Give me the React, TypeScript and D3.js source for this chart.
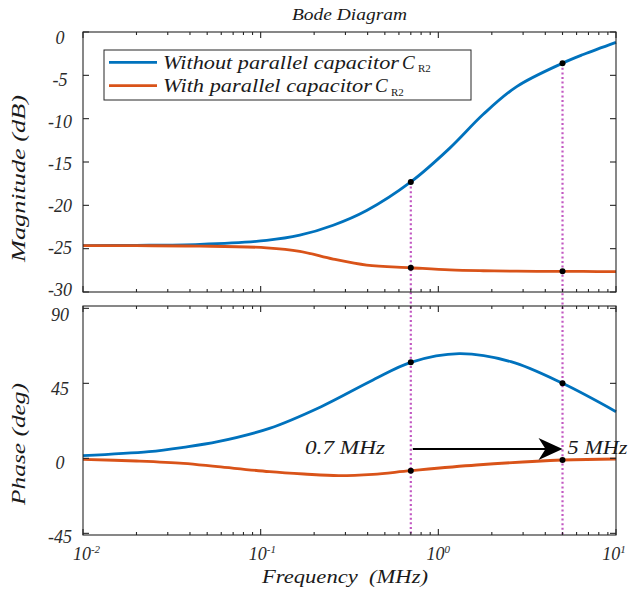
import React from "react";
import * as d3 from "d3";

// ---- data ----
const magFreq = [0.01, 0.02, 0.0455, 0.108, 0.166, 0.256, 0.395, 0.7, 1.16, 1.79, 2.76, 5, 6.54, 10];
const magWithout = [-24.65, -24.62, -24.5, -24.05, -23.45, -22.3, -20.6, -17.3, -13.4, -9.5, -6.3, -3.6, -2.6, -1.2];
const magWith = [-24.65, -24.66, -24.7, -24.9, -25.3, -26.2, -26.9, -27.2, -27.45, -27.55, -27.6, -27.62, -27.63, -27.65];

const phaseFreqWithout = [0.01, 0.0235, 0.0367, 0.0574, 0.112, 0.219, 0.429, 0.7, 1.31, 2.56, 5, 10];
const phaseWithout = [1.6, 4.0, 6.6, 10, 18, 31, 47, 57.6, 62.8, 58, 45, 28];
const phaseFreqWith = [0.01, 0.02, 0.0367, 0.0574, 0.112, 0.175, 0.274, 0.429, 0.7, 1.64, 5, 10];
const phaseWith = [-0.6, -1.6, -3, -5, -8, -9.4, -10.4, -9.6, -7.4, -4, -1, -0.4];

const markerFreqs = [0.7, 5];
const arrowPhase = 5.6;

const magTicks = [0, -5, -10, -15, -20, -25, -30];
const phaseTicks = [90, 45, 0, -45];
const decadeTicks = [0.01, 0.1, 1, 10];
const decadeExp = ["-2", "-1", "0", "1"];

const seriesNames = ["Without parallel capacitor", "With parallel capacitor"];
const colors = ["#0072BD", "#D95319"];

const FONT = '"Liberation Serif", "DejaVu Serif", serif';
const AX = "#262626";
const DOT = "#C258C2";

export default function App() {
  const W = 629, H = 594;
  const x = d3.scaleLog().domain([0.01, 10]).range([83, 616]);
  const yMag = d3.scaleLinear().domain([-30, 0]).range([292, 32]);
  const yPh = d3.scaleLinear().domain([-46, 91.4]).range([535, 306]);
  // label placement scales (labels in the reference sit slightly off their ticks)
  const yMagLab = d3.scaleLinear().domain([-30, 0]).range([290, 38]);
  const yPhLab = d3.scaleLinear().domain([-45, 90]).range([537.5, 315.7]);
  const xLab = d3.scaleLog().domain([0.01, 10]).range([86.5, 614]);

  const lineMag = (fs: number[], vs: number[]) =>
    d3.line<number>().x((_, i) => x(fs[i])).y((v) => yMag(v)).curve(d3.curveCatmullRom.alpha(0.5))(vs) || "";
  const linePh = (fs: number[], vs: number[]) =>
    d3.line<number>().x((_, i) => x(fs[i])).y((v) => yPh(v)).curve(d3.curveCatmullRom.alpha(0.5))(vs) || "";

  const minor: number[] = [];
  for (let e = -2; e < 1; e++) for (let k = 2; k <= 9; k++) minor.push(k * Math.pow(10, e));

  const boxes = [
    { y: yMag, lab: yMagLab, top: 32, bot: 292, ticks: magTicks },
    { y: yPh, lab: yPhLab, top: 306, bot: 535, ticks: phaseTicks },
  ];

  const lookup = (fs: number[], vs: number[], f: number) => vs[fs.indexOf(f)];
  const txt = { fontFamily: FONT, fontStyle: "italic" as const };

  return (
    <svg width={W} height={H} style={{ position: "absolute", left: 0, top: 0, background: "#fff" }}>
      <rect x={0} y={0} width={W} height={H} fill="#fff" />
      {/* title */}
      <text x={349.5} y={20} textAnchor="middle" fontSize={17} fill="#1a1a1a" style={txt} textLength={115} lengthAdjust="spacingAndGlyphs">Bode Diagram</text>

      {/* curves */}
      <path d={lineMag(magFreq, magWithout)} fill="none" stroke={colors[0]} strokeWidth={2.8} />
      <path d={lineMag(magFreq, magWith)} fill="none" stroke={colors[1]} strokeWidth={2.8} />
      <path d={linePh(phaseFreqWithout, phaseWithout)} fill="none" stroke={colors[0]} strokeWidth={2.8} />
      <path d={linePh(phaseFreqWith, phaseWith)} fill="none" stroke={colors[1]} strokeWidth={2.8} />

      {/* dotted verticals */}
      {markerFreqs.map((f) => (
        <line key={"v" + f} x1={x(f)} x2={x(f)} y1={yMag(lookup(magFreq, magWithout, f))} y2={535} stroke={DOT} strokeWidth={2.2} strokeDasharray="2,2.6" />
      ))}

      {/* markers */}
      {markerFreqs.map((f) => (
        <g key={"m" + f} fill="#000">
          <circle cx={x(f)} cy={yMag(lookup(magFreq, magWithout, f))} r={3} />
          <circle cx={x(f)} cy={yMag(lookup(magFreq, magWith, f))} r={3} />
          <circle cx={x(f)} cy={yPh(lookup(phaseFreqWithout, phaseWithout, f))} r={3} />
          <circle cx={x(f)} cy={yPh(lookup(phaseFreqWith, phaseWith, f))} r={3} />
        </g>
      ))}

      {/* axes boxes & ticks */}
      {boxes.map((b, bi) => (
        <g key={"b" + bi} stroke={AX} strokeWidth={1.1} fill="none">
          <rect x={83} y={b.top} width={533} height={b.bot - b.top} />
          {decadeTicks.map((t) => (
            <g key={"M" + t}>
              <line x1={x(t)} x2={x(t)} y1={b.bot} y2={b.bot - 6} />
              <line x1={x(t)} x2={x(t)} y1={b.top} y2={b.top + 6} />
            </g>
          ))}
          {minor.map((t) => (
            <g key={"m" + t}>
              <line x1={x(t)} x2={x(t)} y1={b.bot} y2={b.bot - 3} />
              <line x1={x(t)} x2={x(t)} y1={b.top} y2={b.top + 3} />
            </g>
          ))}
          {b.ticks.map((t) => (
            <g key={"y" + t}>
              <line x1={83} x2={89} y1={b.y(t)} y2={b.y(t)} />
              <line x1={616} x2={610} y1={b.y(t)} y2={b.y(t)} />
            </g>
          ))}
        </g>
      ))}

      {/* y tick labels */}
      {boxes.map((b, bi) =>
        b.ticks.map((t) => (
          <text key={"yl" + bi + t} x={60} y={b.lab(t) + 5.5} textAnchor="middle" fontSize={18} fill="#2a2a2a" style={txt}>
            {t < 0 ? "-" + Math.abs(t) : String(t)}
          </text>
        ))
      )}

      {/* x tick labels */}
      {decadeTicks.map((t, i) => (
        <text key={"xl" + t} x={xLab(t)} y={560} textAnchor="middle" fontSize={18} fill="#2a2a2a" style={txt}>
          10<tspan fontSize={11} dy={-7}>{decadeExp[i]}</tspan>
        </text>
      ))}

      {/* axis labels */}
      <text x={345} y={583} textAnchor="middle" fontSize={19} fill="#1a1a1a" style={{ ...txt, whiteSpace: "pre" }} textLength={166} lengthAdjust="spacingAndGlyphs">{"Frequency  (MHz)"}</text>
      <text transform="translate(25,178.5) rotate(-90)" textAnchor="middle" fontSize={19} fill="#1a1a1a" style={txt} textLength={167} lengthAdjust="spacingAndGlyphs">Magnitude (dB)</text>
      <text transform="translate(25,444) rotate(-90)" textAnchor="middle" fontSize={19} fill="#1a1a1a" style={txt} textLength={122} lengthAdjust="spacingAndGlyphs">Phase (deg)</text>

      {/* legend */}
      <rect x={104} y={50} width={367} height={50} fill="#fff" stroke={AX} strokeWidth={1} />
      {seriesNames.map((s, i) => {
        const ly = 62.3 + i * 23.4;
        const tl = i === 0 ? 236 : 209;
        return (
          <g key={"lg" + i}>
            <line x1={109} x2={157} y1={ly} y2={ly} stroke={colors[i]} strokeWidth={2.8} />
            <text x={163} y={ly + 6.5} fontSize={19} fill="#1a1a1a" style={txt} textLength={tl} lengthAdjust="spacingAndGlyphs">{s}</text>
            <text x={163 + tl + 3} y={ly + 6.5} fontSize={19} fill="#1a1a1a" style={txt}>C</text>
            <text x={163 + tl + 19} y={ly + 10} fontSize={11} fill="#1a1a1a" style={{ fontFamily: FONT, fontStyle: "normal" }}>R2</text>
          </g>
        );
      })}

      {/* annotation arrow */}
      {(() => {
        const ay = yPh(arrowPhase);
        const xs = x(markerFreqs[0]) + 2;
        const xe = x(markerFreqs[1]);
        return (
          <g>
            <line x1={xs} x2={xe - 14} y1={ay} y2={ay} stroke="#000" strokeWidth={2} />
            <path d={`M${xe},${ay} L${xe - 24},${ay - 11} L${xe - 17},${ay} L${xe - 24},${ay + 11} Z`} fill="#000" />
            <text x={385} y={ay + 5} textAnchor="end" fontSize={18} fill="#1a1a1a" style={txt} textLength={80} lengthAdjust="spacingAndGlyphs">0.7 MHz</text>
            <text x={xe + 5} y={ay + 5} fontSize={18} fill="#1a1a1a" style={txt} textLength={60} lengthAdjust="spacingAndGlyphs">5 MHz</text>
          </g>
        );
      })()}
    </svg>
  );
}
